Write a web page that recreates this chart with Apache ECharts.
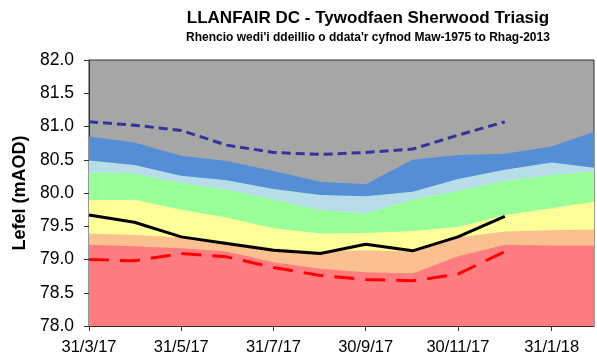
<!DOCTYPE html>
<html>
<head>
<meta charset="utf-8">
<script src="https://cdn.jsdelivr.net/npm/echarts@6/dist/echarts.min.js"></script>
<style>
  html, body { margin: 0; padding: 0; background: #fff; }
  #chart { width: 597px; height: 361px; }
</style>
</head>
<body>
<div id="chart"></div>
<script>
// Month-end dates (d/m/yy) of the ranking bands
const bandDates = ['31/3/17','30/4/17','31/5/17','30/6/17','31/7/17','31/8/17','30/9/17','31/10/17','30/11/17','31/12/17','31/1/18','28/2/18'];

// Upper boundary of each ranking band (mAOD)
const exLowTop   = [79.22, 79.20, 79.17, 79.12, 78.96, 78.86, 78.81, 78.79, 79.05, 79.22, 79.21, 79.21];
const notLowTop  = [79.39, 79.37, 79.33, 79.27, 79.17, 79.12, 79.14, 79.12, 79.33, 79.42, 79.44, 79.45];
const belowTop   = [79.89, 79.90, 79.75, 79.63, 79.47, 79.39, 79.40, 79.43, 79.49, 79.67, 79.77, 79.87];
const normalTop  = [80.31, 80.29, 80.15, 80.05, 79.90, 79.74, 79.69, 79.90, 80.03, 80.18, 80.27, 80.32];
const aboveTop   = [80.49, 80.42, 80.26, 80.19, 80.06, 79.97, 79.95, 80.02, 80.21, 80.35, 80.46, 80.38];
const notHighTop = [80.85, 80.76, 80.56, 80.48, 80.33, 80.17, 80.13, 80.50, 80.57, 80.59, 80.70, 80.92];

// Observed level, and the period maximum / minimum
const levelDates = ['31/3/17','30/4/17','31/5/17','30/6/17','31/7/17','31/8/17','30/9/17','31/10/17','30/11/17','31/12/17'];
const level2017  = [79.67, 79.56, 79.34, 79.24, 79.14, 79.09, 79.23, 79.13, 79.34, 79.65];
const periodMax  = [81.07, 81.02, 80.94, 80.72, 80.61, 80.58, 80.61, 80.66, 80.87, 81.07];
const periodMin  = [79.00, 78.98, 79.09, 79.04, 78.88, 78.76, 78.70, 78.68, 78.78, 79.12];

// Axis tick labels
const xTickLabels = ['31/3/17','31/5/17','31/7/17','30/9/17','30/11/17','31/1/18'];
const yTickLabels = ['78.0','78.5','79.0','79.5','80.0','80.5','81.0','81.5','82.0'];

// Dates become day offsets from the first date
function dayNum(s) {
  const p = s.split('/').map(Number);
  return (Date.UTC(2000 + p[2], p[1] - 1, p[0]) - Date.UTC(2017, 2, 31)) / 86400000;
}
const bandX = bandDates.map(dayNum);
const levelX = levelDates.map(dayNum);
const xTicks = xTickLabels.map(dayNum);
const yTicks = yTickLabels.map(Number);

const pairs = (xs, ys) => xs.map((x, i) => [x, ys[i]]);

function band(name, tops, color) {
  return {
    name: name, type: 'line', data: pairs(bandX, tops),
    symbol: 'none', silent: true,
    lineStyle: { width: 0 },
    areaStyle: { color: color, opacity: 1, origin: 'start' }
  };
}
function curve(name, xs, ys, color, type) {
  return {
    name: name, type: 'line', data: pairs(xs, ys),
    symbol: 'none', z: 5,
    lineStyle: { color: color, width: 3, type: type, cap: 'butt' }
  };
}

const font = 'Arial, "Liberation Sans", sans-serif';
const chart = echarts.init(document.getElementById('chart'), null, { renderer: 'canvas' });
chart.setOption({
  animation: false,
  title: [{
    text: 'LLANFAIR DC - Tywodfaen Sherwood Triasig',
    left: 363, top: 5, textAlign: 'center',
    textStyle: { fontFamily: font, fontSize: 17, fontWeight: 'bold', color: '#000' },
    subtext: "Rhencio wedi'i ddeillio o ddata'r cyfnod Maw-1975 to Rhag-2013",
    subtextStyle: { fontFamily: font, fontSize: 12, fontWeight: 'bold', color: '#000' },
    itemGap: 5
  }],
  grid: {
    left: 89, top: 60, right: 3, bottom: 35,
    show: true, backgroundColor: '#A6A6A6', borderColor: '#303030', borderWidth: 1,
    outerBoundsMode: 'none'
  },
  xAxis: {
    type: 'value', min: 0, max: bandX[bandX.length - 1],
    splitLine: { show: false },
    axisLine: { show: true, onZero: false, lineStyle: { color: '#303030', width: 1 } },
    axisTick: { show: true, length: 5, inside: false, customValues: xTicks, lineStyle: { color: '#303030' } },
    axisLabel: {
      customValues: xTicks,
      formatter: v => xTickLabels[xTicks.indexOf(v)] || '',
      fontFamily: font, fontSize: 16.5, color: '#000', margin: 13, showMinLabel: true, showMaxLabel: true
    }
  },
  yAxis: {
    type: 'value', min: 78, max: 82, interval: 0.5,
    name: 'Lefel (mAOD)', nameLocation: 'middle', nameGap: 58, nameRotate: 90,
    nameTextStyle: { fontFamily: font, fontSize: 18, fontWeight: 'bold', color: '#000' },
    splitLine: { show: false },
    axisLine: { show: true, lineStyle: { color: '#303030', width: 1 } },
    axisTick: { show: true, length: 5, lineStyle: { color: '#303030' } },
    axisLabel: {
      formatter: v => yTickLabels[yTicks.indexOf(v)] || v.toFixed(1),
      fontFamily: font, fontSize: 17.5, color: '#000', margin: 15
    }
  },
  series: [
    band('Notably high', notHighTop, '#558ED5'),
    band('Above normal', aboveTop, '#B7DEE8'),
    band('Normal', normalTop, '#99FF99'),
    band('Below normal', belowTop, '#FFFF99'),
    band('Notably low', notLowTop, '#FAC090'),
    band('Exceptionally low', exLowTop, '#FF7C80'),
    curve('Max', levelX, periodMax, '#333399', [9, 5]),
    curve('Min', levelX, periodMin, '#FF0000', [20, 11]),
    curve('2017', levelX, level2017, '#000000', 'solid')
  ]
});
</script>
</body>
</html>
